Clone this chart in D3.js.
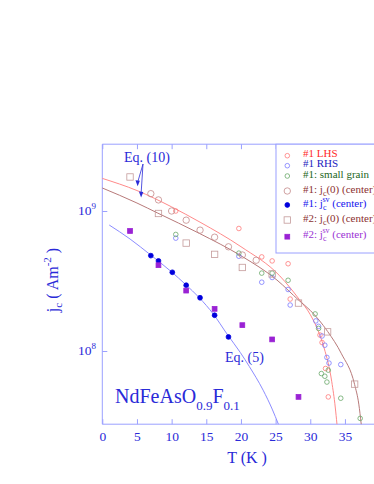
<!DOCTYPE html>
<html>
<head>
<meta charset="utf-8">
<script src="https://cdn.jsdelivr.net/npm/d3@7"></script>
<style>
  body { margin: 0; background: #fff; }
  svg { display: block; font-family: "Liberation Serif", "DejaVu Serif", serif; }
</style>
</head>
<body>
<div id="chart"></div>
<script>
// data: [T (K), jc (A m^-2)]
const lhs = [[10.6,1.0e9],[19.7,7.5e8],[23.0,4.7e8],[24.5,4.4e8],[26.8,4.2e8],[27.1,2.35e8],
  [31.4,1.3e8],[31.7,1.15e8],[32.2,7.5e7],[32.6,4.7e7]];
const rhs = [[10.6,6.4e8],[19.7,4.75e8],[23.0,3.1e8],[24.5,3.35e8],[26.8,2.75e8],[27.1,2.13e8],
  [30.8,1.64e8],[31.2,1.5e8],[31.7,1.28e8],[32.1,1.1e8],[32.4,9.0e7],[32.7,8.2e7],[34.4,8.0e7]];
const smallGrain = [[10.6,6.8e8],[19.7,5.0e8],[23.0,3.6e8],[24.5,3.6e8],[26.8,3.2e8],[30.7,1.84e8],
  [31.2,1.45e8],[31.6,6.9e7],[32.1,6.6e7],[32.6,7.3e7],[32.4,6.0e7],[34.4,4.6e7],[37.2,3.3e7]];
const s1jc0 = [[7.0,1.33e9],[8.1,1.2e9],[10.0,1.0e9],[12.1,8.6e8],[14.1,7.3e8],[16.2,6.5e8],
  [18.2,5.55e8],[20.2,4.85e8],[22.2,4.45e8]];
const s1jsv = [[7.0,4.8e8],[8.1,4.4e8],[10.1,3.65e8],[12.1,2.95e8],[14.1,2.4e8],[16.2,1.8e8],[18.2,1.26e8]];
const s2jc0 = [[4.0,1.75e9],[8.1,9.6e8],[12.1,5.9e8],[16.2,4.9e8],[20.2,3.95e8],[24.5,3.55e8],
  [28.3,2.2e8],[32.5,1.37e8],[36.4,5.8e7]];
const s2jsv = [[4.0,7.2e8],[8.1,4.1e8],[12.1,2.7e8],[16.2,2.0e8],[20.2,1.53e8],[24.5,1.21e8],[28.3,4.7e7]];

// fitted curves
const eq10a = [[0,1.71e9],[5,1.40e9],[10,1.07e9],[14.1,8.32e8],[20,5.56e8],[25.6,3.44e8],[28.4,2.34e8],
  [30,1.82e8],[31.4,1.29e8],[32,1.05e8],[33.1,6.03e7],[33.6,3.98e7],[33.85,3.0e7]];
const eq10b = [[0,1.46e9],[5,1.14e9],[8,9.66e8],[14,6.92e8],[20,4.79e8],[25.2,3.21e8],[28.4,2.29e8],
  [30,1.95e8],[32.5,1.38e8],[34.5,9.55e7],[36.4,5.75e7],[37,4.17e7],[37.35,3.0e7]];
const eq5 = [[1,7.94e8],[4,6.31e8],[7,4.84e8],[10,3.67e8],[12,2.99e8],[14,2.40e8],[16,1.84e8],[18,1.32e8],
  [19.9,9.77e7],[21.2,7.76e7],[23.2,5.25e7],[24.5,3.85e7],[25.4,3.0e7]];

const xTicks = [0,5,10,15,20,25,30,35];
const yTicks = [1e8,1e9];

const width = 374, height = 484;
const axisCol = "#9aa0ff", textCol = "#2a2ad8";

const svg = d3.select("#chart").append("svg")
    .attr("width", width).attr("height", height);

const x = d3.scaleLinear().domain([0, 40]).range([102.3, 379.6]);
const y = d3.scaleLog().domain([3e7, 3e9]).range([424.2, 144.2]);

// frame
const frame = svg.append("g").attr("stroke", axisCol).attr("fill", "none");
frame.append("line").attr("x1", x(0)).attr("x2", x(0)).attr("y1", y(3e7)).attr("y2", y(3e9));
frame.append("line").attr("x1", x(0)).attr("x2", x(40)).attr("y1", y(3e7)).attr("y2", y(3e7));
frame.append("line").attr("x1", x(0)).attr("x2", x(40)).attr("y1", y(3e9)).attr("y2", y(3e9));

// axes with inward ticks
const gx = svg.append("g").attr("transform", `translate(0,${y(3e7)})`)
    .call(d3.axisBottom(x).tickValues(xTicks).tickSizeInner(-5).tickSizeOuter(0).tickPadding(7));
const gxt = svg.append("g").attr("transform", `translate(0,${y(3e9)})`)
    .call(d3.axisTop(x).tickValues(xTicks).tickSizeInner(-5).tickSizeOuter(0).tickFormat(""));
const gy = svg.append("g").attr("transform", `translate(${x(0)},0)`)
    .call(d3.axisLeft(y).tickValues(yTicks).tickSizeInner(-5).tickSizeOuter(0).tickFormat(""));
[gx, gxt, gy].forEach(g => {
  g.attr("font-family", null);
  g.select(".domain").remove();
  g.selectAll("line").attr("stroke", axisCol);
});
gx.selectAll("text").attr("fill", textCol).attr("font-size", 13.5);

// log tick labels 10^n
const yl = svg.append("g").attr("fill", textCol);
yTicks.forEach(v => {
  const t = yl.append("text").attr("x", 96).attr("y", y(v) + 4).attr("text-anchor", "end")
      .attr("font-size", 13.5);
  t.append("tspan").text("10");
  t.append("tspan").attr("font-size", 9).attr("dy", -6).text(Math.round(Math.log10(v)));
});

// axis titles
svg.append("text").attr("x", 247).attr("y", 463).attr("text-anchor", "middle")
    .attr("fill", textCol).attr("font-size", 16).text("T (K )");
const ylab = svg.append("text").attr("transform", "translate(58,280) rotate(-90)")
    .attr("text-anchor", "middle").attr("fill", textCol).attr("font-size", 16);
ylab.append("tspan").text("j");
ylab.append("tspan").attr("font-size", 11).attr("dy", 4).text("c");
ylab.append("tspan").attr("dy", -4).text(" ( Am");
ylab.append("tspan").attr("font-size", 11).attr("dy", -7).text("-2");
ylab.append("tspan").attr("dy", 7).text(" )");

// curves
const line = d3.line().x(d => x(d[0])).y(d => y(d[1])).curve(d3.curveMonotoneX);
svg.append("path").attr("d", line(eq10a)).attr("fill", "none").attr("stroke", "#ff8a8a");
svg.append("path").attr("d", line(eq10b)).attr("fill", "none").attr("stroke", "#b87a7a");
svg.append("path").attr("d", line.defined(d => d[0] < 20 || d[0] > 21)(eq5))
    .attr("fill", "none").attr("stroke", "#8c8cff");

// markers
const series = [
  {name: "lhs", data: lhs, shape: "circle", r: 2.3, stroke: "#ff7a7a", fill: "none"},
  {name: "rhs", data: rhs, shape: "circle", r: 2.3, stroke: "#7a7aff", fill: "none"},
  {name: "sg", data: smallGrain, shape: "circle", r: 2.3, stroke: "#6aa86a", fill: "none"},
  {name: "s1jc0", data: s1jc0, shape: "circle", r: 3.2, stroke: "#c48a8a", fill: "none"},
  {name: "s2jc0", data: s2jc0, shape: "square", r: 3.2, stroke: "#c49a9a", fill: "none"},
  {name: "s1jsv", data: s1jsv, shape: "circle", r: 2.4, stroke: "#0000dd", fill: "#0000dd"},
  {name: "s2jsv", data: s2jsv, shape: "square", r: 2.4, stroke: "#9a22d4", fill: "#9a22d4"}
];
function drawMark(g, s, cx, cy) {
  if (s.shape === "circle") {
    g.append("circle").attr("cx", cx).attr("cy", cy).attr("r", s.r)
      .attr("fill", s.fill).attr("stroke", s.stroke).attr("stroke-width", 0.8);
  } else {
    g.append("rect").attr("x", cx - s.r).attr("y", cy - s.r).attr("width", 2 * s.r).attr("height", 2 * s.r)
      .attr("fill", s.fill).attr("stroke", s.stroke).attr("stroke-width", 0.8);
  }
}
series.forEach(s => {
  const g = svg.append("g").attr("class", s.name);
  s.data.forEach(d => drawMark(g, s, x(d[0]), y(d[1])));
});

// annotations
const ann = svg.append("g").attr("fill", textCol).attr("font-size", 14);
ann.append("text").attr("x", 124).attr("y", 162).text("Eq. (10)");
ann.append("text").attr("x", 225).attr("y", 362).text("Eq. (5)");
const arrowTips = [[5.1, 1.5e9], [5.6, 1.25e9]];
arrowTips.forEach(t => {
  const tx = x(t[0]), ty = y(t[1]);
  svg.append("line").attr("x1", 143).attr("y1", 164).attr("x2", tx).attr("y2", ty - 4)
    .attr("stroke", textCol).attr("stroke-width", 0.8);
  svg.append("path").attr("d", `M${tx},${ty} L${tx - 2.2},${ty - 6} L${tx + 2.2},${ty - 5.5} Z`)
    .attr("fill", textCol);
});
const comp = svg.append("text").attr("x", 115).attr("y", 403).attr("fill", textCol).attr("font-size", 20);
comp.append("tspan").text("NdFeAsO");
comp.append("tspan").attr("font-size", 13).attr("dy", 7).text("0.9");
comp.append("tspan").attr("dy", -7).text("F");
comp.append("tspan").attr("font-size", 13).attr("dy", 7).text("0.1");

// legend
const legend = svg.append("g");
legend.append("rect").attr("x", 276).attr("y", y(3e9)).attr("width", 110).attr("height", 253 - y(3e9))
    .attr("fill", "#fff").attr("stroke", axisCol);
const legendRows = [
  {s: series[0], y: 155.7, color: "#ff2a2a", label: [["#1 LHS"]]},
  {s: series[1], y: 165.7, color: "#2222c0", label: [["#1 RHS"]]},
  {s: series[2], y: 176, color: "#226622", label: [["#1: small grain"]]},
  {s: series[3], y: 191, color: "#8c3030", label: [["#1: j"], ["c", "sub"], ["(0) (center)"]]},
  {s: series[5], y: 205, color: "#1414ee", label: [["#1: j"], ["c", "sub"], ["sv", "sup"], [" (center)"]]},
  {s: series[4], y: 220, color: "#8c3030", label: [["#2: j"], ["c", "sub"], ["(0) (center)"]]},
  {s: series[6], y: 236.7, color: "#9a30d4", label: [["#2: j"], ["c", "sub"], ["sv", "sup"], [" (center)"]]}
];
legendRows.forEach(row => {
  drawMark(legend, row.s, 287.3, row.y);
  const t = legend.append("text").attr("x", 303).attr("y", row.y + 1.5)
      .attr("fill", row.color).attr("font-size", 11);
  let shift = 0;
  row.label.forEach(([txt, kind]) => {
    const ts = t.append("tspan").text(txt);
    if (kind === "sub") { ts.attr("font-size", 8).attr("dy", 3 - shift); shift = 3; }
    else if (kind === "sup") { ts.attr("font-size", 8).attr("dx", -4).attr("dy", -8); shift = -5; }
    else if (shift !== 0) { ts.attr("dy", -shift); shift = 0; }
  });
});
</script>
</body>
</html>
